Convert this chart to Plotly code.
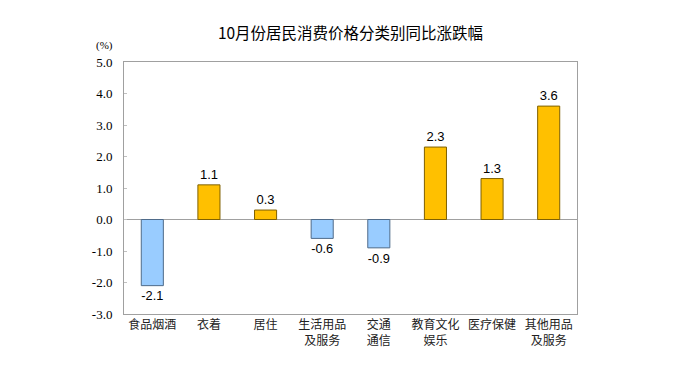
import plotly.graph_objects as go

categories = ["食品烟酒", "衣着", "居住", "生活用品<br>及服务", "交通<br>通信", "教育文化<br>娱乐", "医疗保健", "其他用品<br>及服务"]
values = [-2.1, 1.1, 0.3, -0.6, -0.9, 2.3, 1.3, 3.6]
tick_vals = [-3, -2, -1, 0, 1, 2, 3, 4, 5]
tick_text = ["-3.0", "-2.0", "-1.0", "0.0", "1.0", "2.0", "3.0", "4.0", "5.0"]

fill = ["#99CCFF" if v < 0 else "#FFC000" for v in values]
edge = ["#4F6B8A" if v < 0 else "#7F6000" for v in values]

fig = go.Figure(go.Bar(
    x=categories, y=values,
    marker=dict(color=fill, line=dict(color=edge, width=1)),
    width=0.39,
    text=[f"{v:.1f}" for v in values],
    textposition="outside",
    textfont=dict(family="Liberation Sans, Arial", size=13, color="#000000"),
    cliponaxis=False,
))

fig.update_layout(
    width=679, height=381,
    margin=dict(l=116, r=110, t=54, b=75),
    paper_bgcolor="white", plot_bgcolor="white",
    showlegend=False,
    title=dict(text="10月份居民消费价格分类别同比涨跌幅", x=0.5, xref="paper", y=0.934, yanchor="middle",
               font=dict(family="Noto Sans CJK SC", size=15.5, color="#000000")),
    xaxis=dict(showline=True, linecolor="#A0A0A0", linewidth=1, mirror=True,
               tickfont=dict(family="Noto Sans CJK SC", size=12, color="#222222"),
               ticks="", showgrid=False),
    yaxis=dict(range=[-3, 5], tickvals=tick_vals, ticktext=tick_text,
               showline=True, linecolor="#A0A0A0", linewidth=1, mirror=True,
               ticks="inside", ticklen=3, tickcolor="#C0C0C0",
               tickfont=dict(family="Liberation Serif", size=13, color="#000000"),
               showgrid=False, zeroline=True, zerolinecolor="#A0A0A0", zerolinewidth=1,
               ticklabelstandoff=8),
    annotations=[dict(text="(%)", x=-0.02, xref="paper", xanchor="right", y=1.065, yref="paper",
                      yanchor="middle", showarrow=False,
                      font=dict(family="Liberation Serif", size=11, color="#000000"))],
)
fig.write_html("out.html")
